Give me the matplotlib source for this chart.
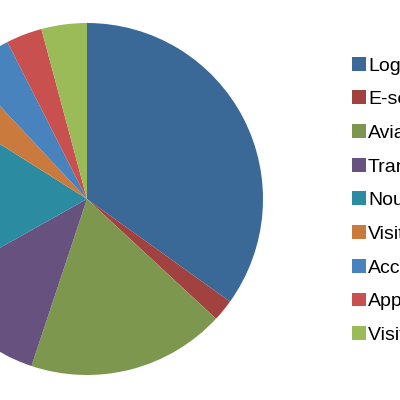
import matplotlib
matplotlib.use("Agg")
import matplotlib.pyplot as plt

labels = ["Logement", "E-services", "Aviation", "Transport", "Nourriture",
          "Visites", "Accessoires", "Apparel", "Visites guidées"]
shares = [34.9, 2.0, 18.2, 11.75, 17.1, 4.06, 4.5, 3.3, 4.17]
colors = ["#3A6997", "#A24240", "#7D984E", "#67517F", "#2B8BA0",
          "#CB7A3E", "#4883BE", "#C8514F", "#9BBB59"]

plt.rcParams["font.family"] = ["Liberation Sans", "DejaVu Sans"]

fig = plt.figure(figsize=(4, 4), dpi=100)
ax = fig.add_axes([-0.2225, 0.0625, 0.88, 0.88])
wedges, _ = ax.pie(shares, colors=colors, startangle=90, counterclock=False,
                   wedgeprops={"linewidth": 0})
ax.set_xlim(-1, 1)
ax.set_ylim(-1, 1)
ax.set_aspect("equal")
ax.axis("off")

fig.legend(wedges, labels, loc="upper left", bbox_to_anchor=(0.88, 0.858),
           frameon=False, fontsize=14, borderpad=0, borderaxespad=0,
           handlelength=0.72, handleheight=0.72, handletextpad=0.1,
           labelspacing=0.82)

fig.savefig("out.png", dpi=100)
